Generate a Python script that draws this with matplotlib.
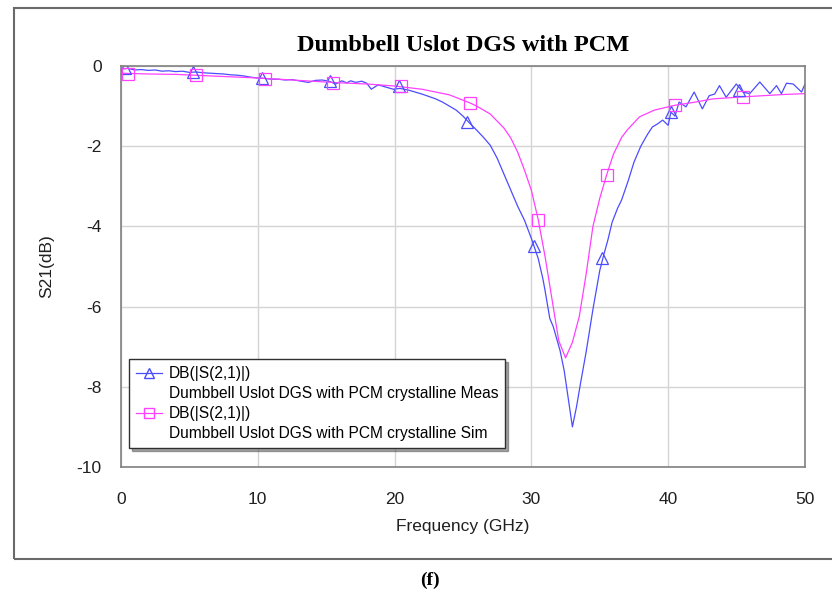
import numpy as np
import matplotlib
matplotlib.use('Agg')
import matplotlib.pyplot as plt
from matplotlib.lines import Line2D
from matplotlib.patches import Rectangle

plt.rcParams['axes.unicode_minus'] = False

meas_f = [0.0, 0.5, 1.0, 1.5, 2.0, 2.5, 3.0, 3.5, 4.0, 4.5, 5.0, 5.5, 6.0, 6.5, 7.0,
          7.5, 8.0, 8.5, 9.0, 9.5, 10.0, 10.5, 11.0, 11.5, 12.0, 12.5, 13.0, 13.7, 14.2,
          14.7, 15.2, 15.7, 16.15, 16.5, 16.8, 17.15, 17.6, 17.96, 18.3, 18.8, 19.3, 19.9,
          20.4, 21.0, 21.5, 22.0, 22.5, 23.0, 23.5, 24.0, 24.5, 25.0, 25.5, 26.0, 26.5,
          27.0, 27.5, 28.0, 28.5, 29.0, 29.5, 30.0, 30.5, 30.85, 31.0, 31.35, 31.6, 31.85,
          32.1, 32.4, 32.7, 33.0, 33.3, 33.6, 34.0, 34.5, 35.0, 35.3, 35.6, 35.9, 36.3,
          36.6, 37.1, 37.5, 38.0, 38.5, 38.85, 39.2, 39.6, 40.0, 40.2, 40.5, 40.8, 41.3,
          41.9, 42.5, 43.0, 43.4, 43.75, 44.24, 44.98, 45.47, 45.96, 46.7, 47.43, 47.92,
          48.28, 48.65, 49.14, 49.75, 50.0]
meas_db = [-0.08, -0.06, -0.1, -0.09, -0.11, -0.1, -0.13, -0.12, -0.14, -0.13, -0.16,
           -0.15, -0.17, -0.18, -0.19, -0.2, -0.22, -0.23, -0.25, -0.28, -0.3, -0.31,
           -0.33, -0.33, -0.35, -0.34, -0.37, -0.41, -0.36, -0.35, -0.38, -0.45, -0.37,
           -0.42, -0.37, -0.41, -0.38, -0.43, -0.58, -0.47, -0.52, -0.58, -0.56, -0.6,
           -0.65, -0.7, -0.76, -0.82, -0.9, -1.0, -1.1, -1.25, -1.43, -1.6, -1.78, -1.98,
           -2.3, -2.7, -3.1, -3.5, -3.85, -4.3, -4.8, -5.32, -5.6, -6.3, -6.5, -6.8, -7.1,
           -7.6, -8.3, -9.0, -8.5, -7.9, -7.14, -6.07, -5.1, -4.7, -4.33, -3.9, -3.55,
           -3.34, -2.84, -2.4, -2.0, -1.7, -1.52, -1.45, -1.35, -1.48, -1.15, -1.25, -0.9,
           -1.02, -0.65, -1.07, -0.74, -0.7, -0.49, -0.78, -0.45, -0.65, -0.69, -0.4,
           -0.69, -0.49, -0.69, -0.43, -0.45, -0.65, -0.45]

# simulated S21 (dB)
sim_f = [0.0, 2.0, 4.0, 6.0, 8.0, 10.0, 12.0, 14.0, 16.0, 18.0, 20.0, 22.0, 24.0,
         25.5, 26.0, 27.0, 28.0, 28.5, 29.0, 29.5, 30.0, 30.5, 31.0, 31.5, 32.0, 32.5,
         33.0, 33.5, 34.0, 34.5, 35.0, 35.5, 36.0, 36.6, 37.0, 37.9, 39.0, 40.0, 40.5,
         42.0, 43.3, 45.5, 47.0, 48.5, 50.0]
sim_db = [-0.18, -0.2, -0.21, -0.24, -0.27, -0.3, -0.34, -0.38, -0.42, -0.45, -0.5,
          -0.58, -0.72, -0.92, -1.0, -1.2, -1.55, -1.8, -2.15, -2.6, -3.1, -3.83, -4.75,
          -5.8, -6.85, -7.28, -6.89, -6.25, -5.2, -4.0, -3.3, -2.72, -2.2, -1.78, -1.6,
          -1.27, -1.1, -1.02, -0.98, -0.9, -0.82, -0.77, -0.74, -0.71, -0.69]

# marker positions
meas_mark_f = [0.3, 5.3, 10.3, 15.3, 20.3, 25.3, 30.2, 35.2, 40.2, 45.2]
meas_mark_db = [-0.05, -0.15, -0.3, -0.38, -0.5, -1.4, -4.5, -4.8, -1.15, -0.6]
sim_mark_f = [0.5, 5.5, 10.5, 15.5, 20.5, 25.5, 30.5, 35.5, 40.5, 45.5]
sim_mark_db = [-0.2, -0.22, -0.32, -0.42, -0.5, -0.92, -3.83, -2.72, -0.98, -0.78]

x_ticks = [0, 10, 20, 30, 40, 50]
y_ticks = [0, -2, -4, -6, -8, -10]

blue = '#4c4cff'
pink = '#ff40ff'
sans = 'Liberation Sans'
serif = 'Liberation Serif'

fig = plt.figure(figsize=(8.32, 5.97), dpi=100)
ax = fig.add_axes([0.1454, 0.2178, 0.8221, 0.6717])

# outer frame around the plot
frame = Rectangle((14 / 832, 1 - 559 / 597), 1.0, (559 - 8) / 597,
                  transform=fig.transFigure, fill=False, edgecolor='#6a6a6a',
                  linewidth=1.5, clip_on=False)
fig.patches.append(frame)

ax.plot(meas_f, meas_db, color=blue, linewidth=0.9)
ax.plot(sim_f, sim_db, color=pink, linewidth=0.9)
ax.plot(meas_mark_f, meas_mark_db, linestyle='none', marker='^', markersize=9,
        markerfacecolor='none', markeredgecolor=blue, markeredgewidth=0.9)
ax.plot(sim_mark_f, sim_mark_db, linestyle='none', marker='s', markersize=9,
        markerfacecolor='none', markeredgecolor=pink, markeredgewidth=0.9)

ax.set_xlim(0, 50)
ax.set_ylim(-10, 0)
ax.set_xticks(x_ticks)
ax.set_yticks(y_ticks)
ax.tick_params(length=0, labelsize=12.5, colors='#202020')
ax.tick_params(axis='x', pad=18)
ax.tick_params(axis='y', pad=14)
for lab in ax.get_xticklabels() + ax.get_yticklabels():
    lab.set_family(sans)
ax.grid(True, color='#d4d4d4', linewidth=1.0)
ax.set_axisbelow(True)
for sp in ax.spines.values():
    sp.set_color('#808080')
    sp.set_linewidth(1.2)

ax.set_xlabel('Frequency (GHz)', fontsize=12.5, family=sans, color='#202020', labelpad=9)
ax.set_ylabel('S21(dB)', fontsize=12.5, family=sans, color='#202020', labelpad=16)
ax.set_title('Dumbbell Uslot DGS with PCM', fontsize=17.5, family=serif,
             fontweight='bold', pad=11)

# legend: label line plus description line for each trace
handles = [
    Line2D([], [], color=blue, linewidth=0.9, marker='^', markersize=6.5,
           markerfacecolor='none', markeredgecolor=blue),
    Line2D([], [], color='none'),
    Line2D([], [], color=pink, linewidth=0.9, marker='s', markersize=6.5,
           markerfacecolor='none', markeredgecolor=pink),
    Line2D([], [], color='none'),
]
labels = ['DB(|S(2,1)|)',
          'Dumbbell Uslot DGS with PCM crystalline Meas',
          'DB(|S(2,1)|)',
          'Dumbbell Uslot DGS with PCM crystalline Sim']
leg = ax.legend(handles, labels, loc='lower left', bbox_to_anchor=(0.0117, 0.047),
                borderaxespad=0, fancybox=False, shadow=True, framealpha=1,
                edgecolor='#303030', handlelength=1.7, handletextpad=0.4,
                labelspacing=0.32, borderpad=0.45,
                prop={'family': sans, 'size': 11.2})
leg.get_frame().set_linewidth(1.0)

fig.text(430 / 832, 1 - 580 / 597, '(f)', fontsize=14, family=serif,
         fontweight='bold', ha='center', va='center')

fig.savefig('out.png', dpi=100)
